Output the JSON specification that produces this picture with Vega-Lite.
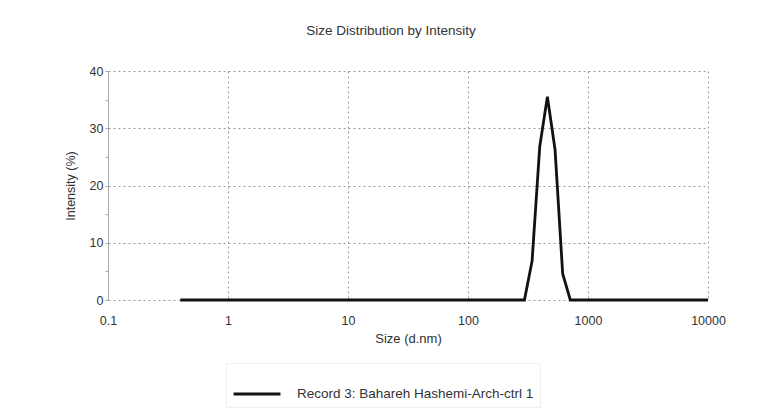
{
  "$schema": "https://vega.github.io/schema/vega-lite/v6.json",
  "width": 600,
  "height": 229,
  "autosize": {"type": "none"},
  "padding": {"left": 108, "top": 71, "right": 55, "bottom": 116},
  "background": "white",
  "title": {
    "text": "Size Distribution by Intensity",
    "font": "Liberation Sans",
    "fontSize": 13.5,
    "fontWeight": "normal",
    "color": "#333",
    "anchor": "middle",
    "dx": -17,
    "offset": 28
  },
  "config": {
    "view": {"stroke": null},
    "font": "Liberation Sans"
  },
  "data": {
    "values": [
      {"size": 0.4, "intensity": 0, "series": "Record 3: Bahareh Hashemi-Arch-ctrl 1"},
      {"size": 0.4632, "intensity": 0, "series": "Record 3: Bahareh Hashemi-Arch-ctrl 1"},
      {"size": 0.5365, "intensity": 0, "series": "Record 3: Bahareh Hashemi-Arch-ctrl 1"},
      {"size": 0.6213, "intensity": 0, "series": "Record 3: Bahareh Hashemi-Arch-ctrl 1"},
      {"size": 0.7195, "intensity": 0, "series": "Record 3: Bahareh Hashemi-Arch-ctrl 1"},
      {"size": 0.8332, "intensity": 0, "series": "Record 3: Bahareh Hashemi-Arch-ctrl 1"},
      {"size": 0.9649, "intensity": 0, "series": "Record 3: Bahareh Hashemi-Arch-ctrl 1"},
      {"size": 1.117, "intensity": 0, "series": "Record 3: Bahareh Hashemi-Arch-ctrl 1"},
      {"size": 1.294, "intensity": 0, "series": "Record 3: Bahareh Hashemi-Arch-ctrl 1"},
      {"size": 1.499, "intensity": 0, "series": "Record 3: Bahareh Hashemi-Arch-ctrl 1"},
      {"size": 1.736, "intensity": 0, "series": "Record 3: Bahareh Hashemi-Arch-ctrl 1"},
      {"size": 2.01, "intensity": 0, "series": "Record 3: Bahareh Hashemi-Arch-ctrl 1"},
      {"size": 2.328, "intensity": 0, "series": "Record 3: Bahareh Hashemi-Arch-ctrl 1"},
      {"size": 2.696, "intensity": 0, "series": "Record 3: Bahareh Hashemi-Arch-ctrl 1"},
      {"size": 3.122, "intensity": 0, "series": "Record 3: Bahareh Hashemi-Arch-ctrl 1"},
      {"size": 3.615, "intensity": 0, "series": "Record 3: Bahareh Hashemi-Arch-ctrl 1"},
      {"size": 4.187, "intensity": 0, "series": "Record 3: Bahareh Hashemi-Arch-ctrl 1"},
      {"size": 4.849, "intensity": 0, "series": "Record 3: Bahareh Hashemi-Arch-ctrl 1"},
      {"size": 5.615, "intensity": 0, "series": "Record 3: Bahareh Hashemi-Arch-ctrl 1"},
      {"size": 6.503, "intensity": 0, "series": "Record 3: Bahareh Hashemi-Arch-ctrl 1"},
      {"size": 7.531, "intensity": 0, "series": "Record 3: Bahareh Hashemi-Arch-ctrl 1"},
      {"size": 8.721, "intensity": 0, "series": "Record 3: Bahareh Hashemi-Arch-ctrl 1"},
      {"size": 10.1, "intensity": 0, "series": "Record 3: Bahareh Hashemi-Arch-ctrl 1"},
      {"size": 11.7, "intensity": 0, "series": "Record 3: Bahareh Hashemi-Arch-ctrl 1"},
      {"size": 13.54, "intensity": 0, "series": "Record 3: Bahareh Hashemi-Arch-ctrl 1"},
      {"size": 15.69, "intensity": 0, "series": "Record 3: Bahareh Hashemi-Arch-ctrl 1"},
      {"size": 18.17, "intensity": 0, "series": "Record 3: Bahareh Hashemi-Arch-ctrl 1"},
      {"size": 21.04, "intensity": 0, "series": "Record 3: Bahareh Hashemi-Arch-ctrl 1"},
      {"size": 24.36, "intensity": 0, "series": "Record 3: Bahareh Hashemi-Arch-ctrl 1"},
      {"size": 28.21, "intensity": 0, "series": "Record 3: Bahareh Hashemi-Arch-ctrl 1"},
      {"size": 32.67, "intensity": 0, "series": "Record 3: Bahareh Hashemi-Arch-ctrl 1"},
      {"size": 37.84, "intensity": 0, "series": "Record 3: Bahareh Hashemi-Arch-ctrl 1"},
      {"size": 43.82, "intensity": 0, "series": "Record 3: Bahareh Hashemi-Arch-ctrl 1"},
      {"size": 50.75, "intensity": 0, "series": "Record 3: Bahareh Hashemi-Arch-ctrl 1"},
      {"size": 58.77, "intensity": 0, "series": "Record 3: Bahareh Hashemi-Arch-ctrl 1"},
      {"size": 68.06, "intensity": 0, "series": "Record 3: Bahareh Hashemi-Arch-ctrl 1"},
      {"size": 78.82, "intensity": 0, "series": "Record 3: Bahareh Hashemi-Arch-ctrl 1"},
      {"size": 91.28, "intensity": 0, "series": "Record 3: Bahareh Hashemi-Arch-ctrl 1"},
      {"size": 105.7, "intensity": 0, "series": "Record 3: Bahareh Hashemi-Arch-ctrl 1"},
      {"size": 122.4, "intensity": 0, "series": "Record 3: Bahareh Hashemi-Arch-ctrl 1"},
      {"size": 141.8, "intensity": 0, "series": "Record 3: Bahareh Hashemi-Arch-ctrl 1"},
      {"size": 164.2, "intensity": 0, "series": "Record 3: Bahareh Hashemi-Arch-ctrl 1"},
      {"size": 190.1, "intensity": 0, "series": "Record 3: Bahareh Hashemi-Arch-ctrl 1"},
      {"size": 220.2, "intensity": 0, "series": "Record 3: Bahareh Hashemi-Arch-ctrl 1"},
      {"size": 255.0, "intensity": 0, "series": "Record 3: Bahareh Hashemi-Arch-ctrl 1"},
      {"size": 295.3, "intensity": 0, "series": "Record 3: Bahareh Hashemi-Arch-ctrl 1"},
      {"size": 342.0, "intensity": 6.8, "series": "Record 3: Bahareh Hashemi-Arch-ctrl 1"},
      {"size": 396.1, "intensity": 26.8, "series": "Record 3: Bahareh Hashemi-Arch-ctrl 1"},
      {"size": 458.7, "intensity": 35.5, "series": "Record 3: Bahareh Hashemi-Arch-ctrl 1"},
      {"size": 531.2, "intensity": 26.3, "series": "Record 3: Bahareh Hashemi-Arch-ctrl 1"},
      {"size": 615.1, "intensity": 4.6, "series": "Record 3: Bahareh Hashemi-Arch-ctrl 1"},
      {"size": 712.4, "intensity": 0, "series": "Record 3: Bahareh Hashemi-Arch-ctrl 1"},
      {"size": 825.0, "intensity": 0, "series": "Record 3: Bahareh Hashemi-Arch-ctrl 1"},
      {"size": 955.4, "intensity": 0, "series": "Record 3: Bahareh Hashemi-Arch-ctrl 1"},
      {"size": 1106, "intensity": 0, "series": "Record 3: Bahareh Hashemi-Arch-ctrl 1"},
      {"size": 1281, "intensity": 0, "series": "Record 3: Bahareh Hashemi-Arch-ctrl 1"},
      {"size": 1484, "intensity": 0, "series": "Record 3: Bahareh Hashemi-Arch-ctrl 1"},
      {"size": 1718, "intensity": 0, "series": "Record 3: Bahareh Hashemi-Arch-ctrl 1"},
      {"size": 1990, "intensity": 0, "series": "Record 3: Bahareh Hashemi-Arch-ctrl 1"},
      {"size": 2305, "intensity": 0, "series": "Record 3: Bahareh Hashemi-Arch-ctrl 1"},
      {"size": 2669, "intensity": 0, "series": "Record 3: Bahareh Hashemi-Arch-ctrl 1"},
      {"size": 3091, "intensity": 0, "series": "Record 3: Bahareh Hashemi-Arch-ctrl 1"},
      {"size": 3580, "intensity": 0, "series": "Record 3: Bahareh Hashemi-Arch-ctrl 1"},
      {"size": 4145, "intensity": 0, "series": "Record 3: Bahareh Hashemi-Arch-ctrl 1"},
      {"size": 4801, "intensity": 0, "series": "Record 3: Bahareh Hashemi-Arch-ctrl 1"},
      {"size": 5560, "intensity": 0, "series": "Record 3: Bahareh Hashemi-Arch-ctrl 1"},
      {"size": 6439, "intensity": 0, "series": "Record 3: Bahareh Hashemi-Arch-ctrl 1"},
      {"size": 7456, "intensity": 0, "series": "Record 3: Bahareh Hashemi-Arch-ctrl 1"},
      {"size": 8635, "intensity": 0, "series": "Record 3: Bahareh Hashemi-Arch-ctrl 1"},
      {"size": 10000, "intensity": 0, "series": "Record 3: Bahareh Hashemi-Arch-ctrl 1"}
    ]
  },
  "mark": {"type": "line", "strokeWidth": 2.8, "interpolate": "linear"},
  "encoding": {
    "x": {
      "field": "size",
      "type": "quantitative",
      "scale": {"type": "log", "domain": [0.1, 10000], "nice": false},
      "axis": {
        "title": "Size (d.nm)",
        "titleFont": "Liberation Sans",
        "titleFontSize": 13,
        "titleFontWeight": "normal",
        "titleColor": "#333",
        "titlePadding": 6,
        "values": [0.1, 1, 10, 100, 1000, 10000],
        "labelExpr": "datum.value < 1 ? '0.1' : format(datum.value, 'd')",
        "labelFont": "Liberation Sans",
        "labelFontSize": 12.5,
        "labelColor": "#333",
        "labelPadding": 14,
        "labelFlush": false,
        "ticks": false,
        "domain": false,
        "grid": true,
        "gridColor": "#999",
        "gridDash": [2, 3],
        "gridWidth": 1
      }
    },
    "y": {
      "field": "intensity",
      "type": "quantitative",
      "scale": {"domain": [0, 40], "nice": false},
      "axis": {
        "title": "Intensity (%)",
        "titleFont": "Liberation Sans",
        "titleFontSize": 12.5,
        "titleFontWeight": "normal",
        "titleColor": "#333",
        "titlePadding": 12,
        "values": [0, 5, 10, 15, 20, 25, 30, 35, 40],
        "labelExpr": "datum.value % 10 == 0 ? datum.label : ''",
        "labelFont": "Liberation Sans",
        "labelFontSize": 12.5,
        "labelColor": "#333",
        "labelPadding": 2,
        "tickSize": 3,
        "tickColor": "#aaa",
        "domain": true,
        "domainColor": "#aaa",
        "grid": true,
        "gridColor": "#999",
        "gridDash": [2, 3],
        "gridWidth": 1,
        "gridOpacity": {"condition": {"test": "datum.value % 10 == 0", "value": 1}, "value": 0}
      }
    },
    "color": {
      "field": "series",
      "type": "nominal",
      "scale": {"range": ["#111111"]},
      "legend": {
        "title": null,
        "orient": "none",
        "legendX": 118,
        "legendY": 292,
        "symbolType": "stroke",
        "symbolSize": 2200,
        "symbolStrokeWidth": 3,
        "labelFont": "Liberation Sans",
        "labelFontSize": 13.5,
        "labelColor": "#333",
        "labelOffset": 15,
        "labelLimit": 500,
        "padding": 6,
        "strokeColor": "#f0f0f0"
      }
    }
  }
}
